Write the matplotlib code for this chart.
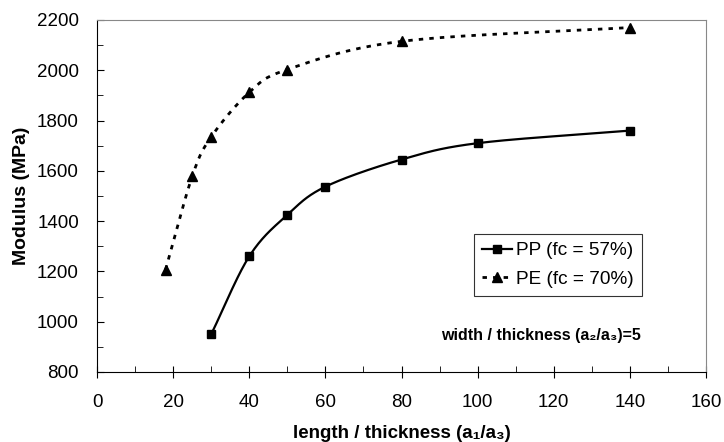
import numpy as np
import matplotlib.pyplot as plt

plt.rcParams['font.family'] = ['Liberation Sans', 'DejaVu Sans']

# data
pp_x = [30, 40, 50, 60, 80, 100, 140]
pp_y = [950, 1260, 1425, 1537, 1645, 1710, 1760]
pe_x = [18, 25, 30, 40, 50, 80, 140]
pe_y = [1207, 1578, 1735, 1912, 2003, 2115, 2170]

x_ticks = [0, 20, 40, 60, 80, 100, 120, 140, 160]
y_ticks = [800, 1000, 1200, 1400, 1600, 1800, 2000, 2200]


def smooth(xs, ys, n=30):
    # Catmull-Rom style smoothing, like an Excel "smoothed line"
    xs = np.asarray(xs, float)
    ys = np.asarray(ys, float)
    px = np.concatenate([[2 * xs[0] - xs[1]], xs, [2 * xs[-1] - xs[-2]]])
    py = np.concatenate([[2 * ys[0] - ys[1]], ys, [2 * ys[-1] - ys[-2]]])
    outx, outy = [], []
    t = np.linspace(0, 1, n)
    for i in range(1, len(px) - 2):
        p0, p1, p2, p3 = [np.array([px[j], py[j]]) for j in (i - 1, i, i + 1, i + 2)]
        c1 = p1 + (p2 - p0) / 6.0
        c2 = p2 - (p3 - p1) / 6.0
        pts = ((1 - t)[:, None] ** 3 * p1 + 3 * ((1 - t) ** 2 * t)[:, None] * c1
               + 3 * ((1 - t) * t ** 2)[:, None] * c2 + (t ** 3)[:, None] * p2)
        outx.extend(pts[:, 0])
        outy.extend(pts[:, 1])
    return outx, outy


fig = plt.figure(figsize=(7.24, 4.42), dpi=100)
ax = fig.add_axes([0.134, 0.1584, 0.8412, 0.7964])

sx, sy = smooth(pp_x, pp_y)
ax.plot(sx, sy, color='black', lw=1.6)
ax.plot(pp_x, pp_y, 's', color='black', ms=6)

sx, sy = smooth(pe_x, pe_y)
ax.plot(sx, sy, color='black', lw=2.0, dashes=(1.6, 2.2))
ax.plot(pe_x, pe_y, '^', color='black', ms=6.5)

# legend handles
ax.plot([], [], color='black', lw=1.6, marker='s', ms=6, label='PP (fc = 57%)')
ax.plot([], [], color='black', lw=2.0, dashes=(1.6, 2.2), marker='^', ms=6.5, label='PE (fc = 70%)')
handles, labels = ax.get_legend_handles_labels()
leg = ax.legend(handles, labels, loc='upper left', bbox_to_anchor=(0.619, 0.392),
                fontsize=13.7, frameon=True, fancybox=False, edgecolor='black',
                handlelength=1.6, handletextpad=0.2, borderpad=0.42, labelspacing=0.6,
                borderaxespad=0)
leg.get_frame().set_linewidth(0.8)

ax.text(0.893, 0.105, 'width / thickness (a\u2082/a\u2083)=5', transform=ax.transAxes,
        ha='right', va='center', fontsize=11.5, fontweight='bold')

ax.set_xlim(0, 160)
ax.set_ylim(800, 2200)
ax.set_xticks(x_ticks)
ax.set_yticks(y_ticks)
ax.set_xticks(np.arange(0, 161, 10), minor=True)
ax.set_yticks(np.arange(800, 2201, 100), minor=True)
ax.tick_params(axis='both', labelsize=13.5, color='black')
ax.tick_params(axis='x', which='major', direction='inout', length=8, pad=12)
ax.tick_params(axis='x', which='minor', direction='in', length=4)
ax.tick_params(axis='y', which='major', direction='in', length=5, pad=13)
ax.tick_params(axis='y', which='minor', direction='in', length=4)

for s in ['top', 'right']:
    ax.spines[s].set_color('#888888')
    ax.spines[s].set_linewidth(0.8)

ax.set_xlabel('length / thickness (a\u2081/a\u2083)', fontsize=13.5, fontweight='bold', labelpad=10)
ax.set_ylabel('Modulus (MPa)', fontsize=14, fontweight='bold', labelpad=5)

fig.savefig('out.png', dpi=100)
